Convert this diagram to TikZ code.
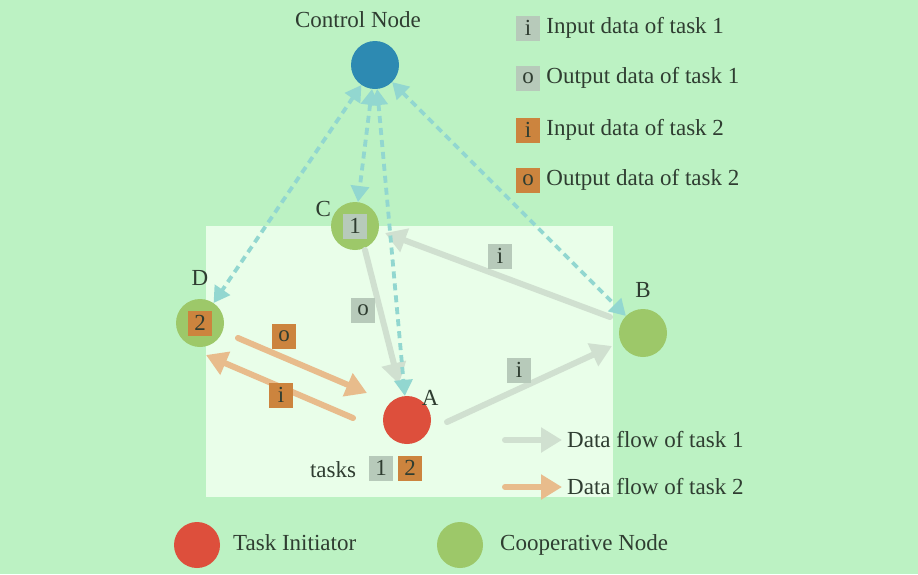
\documentclass[tikz,border=0pt]{standalone}
\usepackage{fontspec}
\setmainfont{Liberation Serif}
\usetikzlibrary{arrows.meta,positioning,calc}
\definecolor{bgc}{HTML}{BCF2C3}
\definecolor{panelc}{HTML}{E9FEE9}
\definecolor{ctrlc}{HTML}{2D8AB2}
\definecolor{peerc}{HTML}{9DC869}
\definecolor{initc}{HTML}{DD4F3C}
\definecolor{grayc}{HTML}{B7CABA}
\definecolor{orc}{HTML}{CC843E}
\definecolor{grayfc}{HTML}{D0E0D0}
\definecolor{orfc}{HTML}{E8BC8C}
\definecolor{cyanc}{HTML}{92D7D0}
\definecolor{txtc}{HTML}{2F3D31}

\begin{document}
\begin{tikzpicture}[x=1pt,y=-1pt,font=\fontsize{23}{27}\selectfont,every node/.append style={text=txtc},peer/.style={circle,fill=#1,minimum size=48pt,inner sep=0pt},tag/.style={fill=#1,minimum width=24pt,minimum height=25pt,inner sep=0pt},lbl/.style={inner sep=1pt},flow/.style={draw=#1,line width=6pt,line cap=round,-{Triangle[length=21pt,width=24pt]}},ctl/.style={draw=cyanc,line width=3.8pt,dash pattern=on 7pt off 5pt,{Triangle[length=16pt,width=18pt]}-{Triangle[length=16pt,width=18pt]}}]
\fill[bgc] (0,0) rectangle (918,574);
\fill[panelc] (206,226) rectangle (613,497);
% nodes
\node[peer=ctrlc] (ctrl) at (375,65) {};
\node[lbl] at (358,20) {Control Node};
\node[peer=peerc,label={[lbl,label distance=0pt]160:C}] (C) at (355,226) {};
\node[peer=peerc,label={[lbl,label distance=12pt]90:D}] (D) at (200,323) {};
\node[peer=peerc,label={[lbl,label distance=10pt]90:B}] (B) at (643,333) {};
\node[peer=initc,label={[lbl,label distance=-5pt]45:A}] (A) at (407,420) {};
% data flows
\draw[flow=grayfc] ($(C)+(10,24)$)--($(A)+(-8,-36)$);
\draw[flow=grayfc] ($(B)+(-33,-16)$)--($(C)+(30,7)$);
\draw[flow=grayfc] ($(A)+(40,2)$)--($(B)+(-31,13)$);
\draw[flow=orfc] ($(D)+(38,15)$)--($(A)+(-40,-27)$);
\draw[flow=orfc] ($(A)+(-54,-2)$)--($(D)+(6,32)$);
\node[tag=grayc] (co) at (363,310) {o};
\node[tag=grayc] (bi) at (500,256) {i};
\node[tag=grayc] (ai) at (519,370) {i};
\node[tag=orc] (do) at (284,336) {o};
\node[tag=orc] (di) at (281,395) {i};
% control links
\foreach \n in {D,C,A,B} \draw[ctl] (ctrl)--(\n);
\node[tag=grayc] (c1) at (C) {1};
\node[tag=orc] (d2) at (D) {2};
\node[lbl] (tasks) at (333,470) {tasks};
\node[tag=grayc] (t1) at (381,468) {1};
\node[tag=orc] (t2) at (410,468) {2};
% legend
\foreach \y/\c/\t/\w/\k in {28/grayc/i/Input/1,78/grayc/o/Output/1,130/orc/i/Input/2,180/orc/o/Output/2}{
\node[tag=\c] (k\y) at (528,\y) {\t};
\node[lbl,anchor=west,xshift=5pt] at (k\y.east) {\w{} data of task \k};}
\coordinate (f1a) at (505,440);\coordinate (f1b) at (562,440);
\coordinate (f2a) at (505,487);\coordinate (f2b) at (562,487);
\draw[flow=grayfc] (f1a)--(f1b);\draw[flow=orfc] (f2a)--(f2b);
\node[lbl,anchor=west] at (566,440) {Data flow of task 1};
\node[lbl,anchor=west] at (566,487) {Data flow of task 2};
\node[peer=initc,minimum size=46pt] (ti) at (197,545) {};
\node[lbl,anchor=west] at (232,543) {Task Initiator};
\node[peer=peerc,minimum size=46pt] (cn) at (460,545) {};
\node[lbl,anchor=west] at (499,545) {Cooperative Node};
\end{tikzpicture}
\end{document}
